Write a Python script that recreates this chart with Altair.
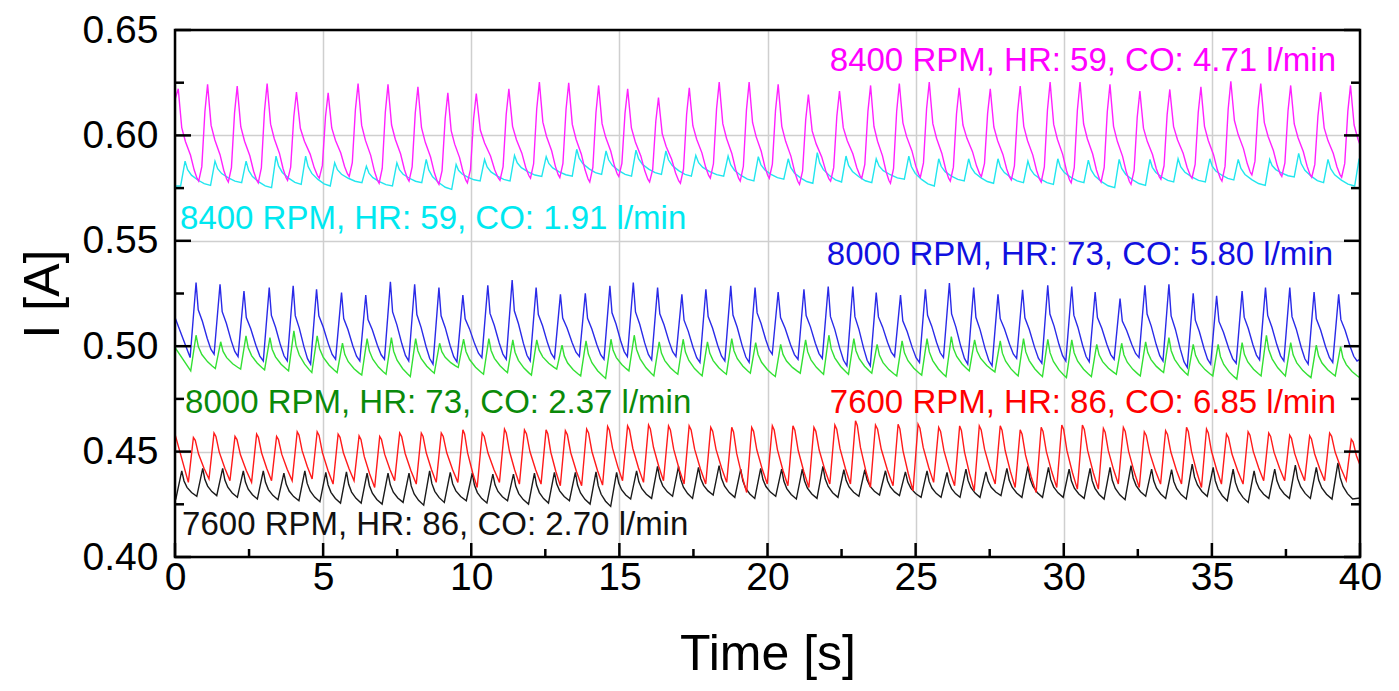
import altair as alt
import pandas as pd

W, H = 1185, 527
FONT = "Liberation Sans"
T_MAX = 40.0

# ---------------- values ----------------
# magenta: 8400 RPM, HR 59, CO 4.71
mag_start = 0.6170
mag_peak_t = [0.11, 1.10, 2.10, 3.11, 4.10, 5.17, 6.18, 7.19, 8.20, 9.21, 10.17, 11.27, 12.30,
              13.29, 14.30, 15.28, 16.32, 17.36, 18.37, 19.38, 20.36, 21.38, 22.43, 23.48, 24.45, 25.46,
              26.47, 27.52, 28.53, 29.54, 30.55, 31.56, 32.57, 33.58, 34.63, 35.64, 36.65, 37.66, 38.67, 39.68]
mag_peak_v = [0.6221, 0.6242, 0.6234, 0.6246, 0.6205, 0.6202, 0.6246, 0.6242, 0.6231, 0.6202, 0.6198, 0.6221, 0.6253,
              0.6250, 0.6237, 0.6221, 0.6179, 0.6226, 0.6253, 0.6253, 0.6242, 0.6194, 0.6210, 0.6237, 0.6246, 0.6253,
              0.6226, 0.6221, 0.6234, 0.6253, 0.6253, 0.6242, 0.6210, 0.6218, 0.6231, 0.6257, 0.6246, 0.6237, 0.6205, 0.6237]
mag_trough_v = [0.6170, 0.5783, 0.5779, 0.5775, 0.5787, 0.5797, 0.5805, 0.5773, 0.5783, 0.5768, 0.5775, 0.5787, 0.5797,
                0.5800, 0.5779, 0.5805, 0.5779, 0.5773, 0.5797, 0.5783, 0.5797, 0.5768, 0.5783, 0.5797, 0.5773, 0.5802,
                0.5783, 0.5805, 0.5789, 0.5779, 0.5775, 0.5779, 0.5768, 0.5792, 0.5797, 0.5783, 0.5813, 0.5805, 0.5802,
                0.5802, 0.5790]
mag_end = 0.5990

# cyan: 8400 RPM, HR 59, CO 1.91
cya_start = 0.5760
cya_peak_t = [0.34, 1.35, 2.40, 3.41, 4.41, 5.39, 6.46, 7.49, 8.48, 9.49, 10.45, 11.46, 12.53,
              13.56, 14.55, 15.56, 16.57, 17.58, 18.67, 19.69, 20.70, 21.68, 22.65, 23.67, 24.77, 25.78,
              26.79, 27.78, 28.79, 29.80, 30.83, 31.87, 32.91, 33.86, 34.93, 35.89, 36.95, 37.93, 38.92, 39.97]
cya_peak_v = [0.5878, 0.5878, 0.5878, 0.5902, 0.5902, 0.5870, 0.5854, 0.5870, 0.5886, 0.5862, 0.5886, 0.5905, 0.5899,
              0.5934, 0.5926, 0.5930, 0.5926, 0.5905, 0.5902, 0.5899, 0.5889, 0.5918, 0.5902, 0.5889, 0.5902, 0.5889,
              0.5889, 0.5889, 0.5878, 0.5889, 0.5883, 0.5886, 0.5886, 0.5889, 0.5889, 0.5886, 0.5886, 0.5915, 0.5886, 0.5890]
cya_trough_v = [0.5760, 0.5763, 0.5776, 0.5752, 0.5768, 0.5760, 0.5776, 0.5760, 0.5776, 0.5744, 0.5784, 0.5784, 0.5805,
                0.5807, 0.5815, 0.5807, 0.5815, 0.5807, 0.5807, 0.5784, 0.5792, 0.5773, 0.5779, 0.5776, 0.5792, 0.5760,
                0.5784, 0.5773, 0.5776, 0.5768, 0.5776, 0.5752, 0.5763, 0.5779, 0.5779, 0.5789, 0.5763, 0.5803, 0.5776,
                0.5760, 0.5770]
cya_end = 0.5886

# blue: 8000 RPM, HR 73, CO 5.80
blu_start = 0.5136
blu_peak_t = [0.711, 1.520, 2.328, 3.181, 3.989, 4.778, 5.621, 6.439, 7.271, 8.090, 8.909, 9.717, 10.559, 11.381, 12.190,
              13.01, 13.85, 14.68, 15.47, 16.29, 17.11, 17.92, 18.76, 19.58, 20.36, 21.23, 22.05, 22.88, 23.67, 24.49,
              25.33, 26.14, 26.96, 27.78, 28.61, 29.46, 30.27, 31.06, 31.90, 32.74, 33.55, 34.37, 35.16, 36.02, 36.81,
              37.63, 38.45, 39.28]
blu_peak_v = [0.5302, 0.5294, 0.5262, 0.5278, 0.5286, 0.5270, 0.5254, 0.5242, 0.5305, 0.5294, 0.5278, 0.5242, 0.5289,
              0.5314, 0.5278, 0.5246, 0.5251, 0.5286, 0.5302, 0.5278, 0.5246, 0.5270, 0.5286, 0.5278, 0.5257, 0.5270,
              0.5283, 0.5283, 0.5254, 0.5242, 0.5270, 0.5299, 0.5278, 0.5246, 0.5267, 0.5289, 0.5283, 0.5257, 0.5226,
              0.5289, 0.5294, 0.5251, 0.5239, 0.5262, 0.5278, 0.5278, 0.5257, 0.5246]
blu_trough_v = [0.4946, 0.4962, 0.4951, 0.4930, 0.4930, 0.4915, 0.4938, 0.4930, 0.4938, 0.4930, 0.4915, 0.4926, 0.4946,
                0.4938, 0.4930, 0.4942, 0.4951, 0.4938, 0.4951, 0.4935, 0.4951, 0.4923, 0.4930, 0.4923, 0.4962, 0.4938,
                0.4942, 0.4907, 0.4907, 0.4951, 0.4923, 0.4946, 0.4915, 0.4907, 0.4942, 0.4919, 0.4930, 0.4926, 0.4938,
                0.4946, 0.4930, 0.4899, 0.4915, 0.4919, 0.4935, 0.4930, 0.4915, 0.4923, 0.4930]
blu_end = 0.4938

# green: 8000 RPM, HR 73, CO 2.37
grn_start = 0.4994
grn_peak_t = [0.711, 1.542, 2.396, 3.204, 4.013, 4.799, 5.653, 6.484, 7.304, 8.123, 8.932, 9.741, 10.594, 11.403, 12.211,
              13.065, 13.874, 14.716, 15.502, 16.344, 17.153, 17.973, 18.793, 19.601, 20.444, 21.286, 22.072, 22.914,
              23.700, 24.543, 25.385, 26.205, 26.991, 27.856, 28.642, 29.462, 30.271, 31.113, 31.955, 32.764, 33.550,
              34.370, 35.212, 36.021, 36.841, 37.661, 38.525, 39.345]
grn_peak_v = [0.5052, 0.5021, 0.5049, 0.5041, 0.5073, 0.5049, 0.5014, 0.5036, 0.5041, 0.5036, 0.5014, 0.5033, 0.5036,
              0.5030, 0.5030, 0.5005, 0.5025, 0.5033, 0.5052, 0.5021, 0.5033, 0.5021, 0.5036, 0.5017, 0.5009, 0.5030,
              0.5052, 0.5036, 0.5009, 0.5025, 0.5036, 0.5046, 0.5030, 0.5025, 0.5036, 0.5033, 0.5030, 0.5009, 0.5014,
              0.5021, 0.5041, 0.5009, 0.5009, 0.5017, 0.5052, 0.5017, 0.5005, 0.4998]
grn_trough_v = [0.4883, 0.4894, 0.4891, 0.4888, 0.4883, 0.4875, 0.4875, 0.4863, 0.4867, 0.4856, 0.4872, 0.4899, 0.4867,
                0.4875, 0.4863, 0.4891, 0.4859, 0.4847, 0.4883, 0.4859, 0.4867, 0.4859, 0.4867, 0.4872, 0.4856, 0.4872,
                0.4867, 0.4867, 0.4872, 0.4859, 0.4863, 0.4856, 0.4883, 0.4878, 0.4859, 0.4856, 0.4851, 0.4856, 0.4867,
                0.4859, 0.4875, 0.4863, 0.4859, 0.4844, 0.4859, 0.4859, 0.4851, 0.4859, 0.4851]
grn_end = 0.4851

# red: 7600 RPM, HR 86, CO 6.85
red_start = 0.4583
red_peak_t = [0.621, 1.317, 2.025, 2.755, 3.429, 4.125, 4.799, 5.506, 6.214, 6.910, 7.584, 8.314, 8.988, 9.718, 10.370,
              11.122, 11.796, 12.526, 13.177, 13.896, 14.603, 15.277, 15.985, 16.659, 17.355, 18.085, 18.793, 19.467,
              20.163, 20.859, 21.567, 22.274, 22.971, 23.645, 24.408, 25.082, 25.778, 26.486, 27.149, 27.856, 28.530,
              29.238, 29.934, 30.630, 31.338, 32.012, 32.719, 33.438, 34.145, 34.819, 35.493, 36.223, 36.919, 37.627,
              38.301, 38.975, 39.705]
red_peak_v = [0.4567, 0.4588, 0.4572, 0.4583, 0.4572, 0.4594, 0.4594, 0.4583, 0.4575, 0.4572, 0.4588, 0.4588, 0.4588,
              0.4603, 0.4588, 0.4607, 0.4603, 0.4603, 0.4599, 0.4607, 0.4619, 0.4622, 0.4626, 0.4622, 0.4622, 0.4615,
              0.4615, 0.4615, 0.4622, 0.4622, 0.4615, 0.4626, 0.4646, 0.4626, 0.4630, 0.4630, 0.4615, 0.4622, 0.4622,
              0.4622, 0.4603, 0.4615, 0.4626, 0.4626, 0.4610, 0.4615, 0.4594, 0.4599, 0.4615, 0.4607, 0.4583, 0.4594,
              0.4588, 0.4578, 0.4575, 0.4588, 0.4559]
red_trough_v = [0.4354, 0.4370, 0.4362, 0.4354, 0.4362, 0.4362, 0.4370, 0.4346, 0.4362, 0.4330, 0.4362, 0.4346, 0.4354,
                0.4354, 0.4330, 0.4354, 0.4346, 0.4346, 0.4338, 0.4338, 0.4341, 0.4362, 0.4354, 0.4362, 0.4346, 0.4346,
                0.4354, 0.4306, 0.4346, 0.4338, 0.4330, 0.4346, 0.4346, 0.4330, 0.4338, 0.4314, 0.4354, 0.4338, 0.4314,
                0.4346, 0.4330, 0.4306, 0.4330, 0.4322, 0.4322, 0.4346, 0.4330, 0.4346, 0.4346, 0.4330, 0.4346, 0.4346,
                0.4362, 0.4362, 0.4362, 0.4362, 0.4362, 0.4362]
red_end = 0.4470

# black: 7600 RPM, HR 86, CO 2.70
blk_start = 0.4275
blk_peak_t = [0.228, 0.936, 1.609, 2.306, 2.980, 3.676, 4.383, 5.091, 5.787, 6.484, 7.191, 7.899, 8.595, 9.291, 10.033,
              10.729, 11.425, 12.133, 12.807, 13.514, 14.211, 14.907, 15.581, 16.288, 16.996, 17.670, 18.366, 19.096,
              19.770, 20.477, 21.174, 21.870, 22.578, 23.285, 23.982, 24.655, 25.385, 26.059, 26.699, 27.373, 28.081,
              28.788, 29.484, 30.181, 30.888, 31.562, 32.270, 32.966, 33.640, 34.336, 35.044, 35.718, 36.425, 37.122,
              37.818, 38.525, 39.255]
blk_peak_v = [0.4409, 0.4420, 0.4420, 0.4409, 0.4409, 0.4398, 0.4409, 0.4401, 0.4404, 0.4398, 0.4398, 0.4398, 0.4409,
              0.4401, 0.4398, 0.4393, 0.4393, 0.4398, 0.4401, 0.4401, 0.4404, 0.4401, 0.4409, 0.4430, 0.4430, 0.4425,
              0.4433, 0.4417, 0.4420, 0.4417, 0.4417, 0.4430, 0.4414, 0.4414, 0.4409, 0.4404, 0.4409, 0.4401, 0.4417,
              0.4404, 0.4420, 0.4430, 0.4425, 0.4417, 0.4420, 0.4425, 0.4433, 0.4417, 0.4414, 0.4441, 0.4425, 0.4417,
              0.4409, 0.4417, 0.4436, 0.4425, 0.4446]
blk_trough_v = [0.4275, 0.4288, 0.4291, 0.4283, 0.4275, 0.4272, 0.4267, 0.4262, 0.4256, 0.4256, 0.4251, 0.4259, 0.4246,
                0.4259, 0.4267, 0.4256, 0.4267, 0.4251, 0.4256, 0.4267, 0.4251, 0.4240, 0.4275, 0.4278, 0.4288, 0.4278,
                0.4294, 0.4283, 0.4278, 0.4288, 0.4275, 0.4278, 0.4283, 0.4288, 0.4294, 0.4291, 0.4283, 0.4283, 0.4283,
                0.4283, 0.4291, 0.4283, 0.4283, 0.4283, 0.4278, 0.4275, 0.4272, 0.4288, 0.4278, 0.4275, 0.4288, 0.4267,
                0.4259, 0.4278, 0.4278, 0.4278, 0.4275, 0.4275]
blk_end = 0.4280

# axis ticks
x_major = [0, 5, 10, 15, 20, 25, 30, 35, 40]
x_minor = [2.5, 7.5, 12.5, 17.5, 22.5, 27.5, 32.5, 37.5]
y_major = [0.40, 0.45, 0.50, 0.55, 0.60, 0.65]
y_minor = [0.425, 0.475, 0.525, 0.575, 0.625]

# annotations: text, time, current, colour, align
notes = [
    ("8400 RPM, HR: 59, CO: 4.71 l/min", 39.19, 0.6351, "#ff00ff", "right"),
    ("8400 RPM, HR: 59, CO: 1.91 l/min", 0.17, 0.5602, "#00e8f0", "left"),
    ("8000 RPM, HR: 73, CO: 5.80 l/min", 39.09, 0.5431, "#1010e0", "right"),
    ("8000 RPM, HR: 73, CO: 2.37 l/min", 0.34, 0.4730, "#0a8a0a", "left"),
    ("7600 RPM, HR: 86, CO: 6.85 l/min", 39.19, 0.4730, "#ff0000", "right"),
    ("7600 RPM, HR: 86, CO: 2.70 l/min", 0.24, 0.4152, "#111111", "left"),
]

# beat shapes (fractions of time / amplitude, read from representative beats)
shapes = {
    "mag": (0.30, [(0.35, 0.15), (0.70, 0.72)],
            [(0.08, 0.80), (0.17, 0.58), (0.35, 0.43), (0.60, 0.28), (0.78, 0.12), (0.92, 0.03)]),
    "cya": (0.15, [], [(0.10, 0.65), (0.25, 0.42), (0.50, 0.22), (0.75, 0.07)]),
    "blu": (0.20, [], [(0.12, 0.62), (0.35, 0.46), (0.62, 0.22), (0.82, 0.07)]),
    "grn": (0.18, [], [(0.12, 0.65), (0.30, 0.42), (0.60, 0.20), (0.85, 0.07)]),
    "red": (0.17, [], [(0.12, 0.93), (0.33, 0.60), (0.68, 0.26)]),
    "blk": (0.20, [], [(0.15, 0.60), (0.35, 0.35), (0.65, 0.15)]),
}


def waveform(name, start_v, peak_t, peak_v, trough_v, end_v):
    rise, rise_shape, decay_shape = shapes[name]
    n = len(peak_t)
    period = (peak_t[-1] - peak_t[0]) / (n - 1)
    pts = [(0.0, start_v)]
    for i in range(n):
        tp, vp = peak_t[i], peak_v[i]
        t0, v0 = tp - rise, trough_v[i]
        if t0 > 0:
            pts.append((t0, v0))
            for ft, fa in rise_shape:
                pts.append((t0 + ft * rise, v0 + fa * (vp - v0)))
        pts.append((tp, vp))
        t1 = peak_t[i + 1] - rise if i + 1 < n else tp + period - rise
        v1 = trough_v[i + 1]
        for ft, fa in decay_shape:
            pts.append((tp + ft * (t1 - tp), v1 + fa * (vp - v1)))
        pts.append((t1, v1))
    if pts[-1][0] < T_MAX:
        pts.append((T_MAX, end_v))
    return [{"series": name, "t": t, "v": v, "k": k} for k, (t, v) in enumerate(pts)]


rows = []
rows += waveform("blk", blk_start, blk_peak_t, blk_peak_v, blk_trough_v, blk_end)
rows += waveform("red", red_start, red_peak_t, red_peak_v, red_trough_v, red_end)
rows += waveform("grn", grn_start, grn_peak_t, grn_peak_v, grn_trough_v, grn_end)
rows += waveform("blu", blu_start, blu_peak_t, blu_peak_v, blu_trough_v, blu_end)
rows += waveform("cya", cya_start, cya_peak_t, cya_peak_v, cya_trough_v, cya_end)
rows += waveform("mag", mag_start, mag_peak_t, mag_peak_v, mag_trough_v, mag_end)
df = pd.DataFrame(rows)

series_names = ["blk", "red", "grn", "blu", "cya", "mag"]
series_colors = ["#1a1a1a", "#ff1a1a", "#33e033", "#2a2ae8", "#22e6ee", "#ff22ff"]

xs = alt.Scale(domain=[0, 40], nice=False, zero=False)
ys = alt.Scale(domain=[0.40, 0.65], nice=False, zero=False)

x_axis = alt.Axis(values=x_major, format="d", title="Time [s]", grid=True, ticks=False, domain=False,
                  gridColor="#cfcfcf", gridWidth=1.5, labelFont=FONT, labelFontSize=39, labelColor="black",
                  labelPadding=1, titleFont=FONT, titleFontSize=50, titleFontWeight="normal",
                  titleColor="black", titlePadding=32, labelFlush=False)
y_axis = alt.Axis(values=y_major, format=".2f", title="I [A]", grid=True, ticks=False, domain=False,
                  gridColor="#cfcfcf", gridWidth=1.5, labelFont=FONT, labelFontSize=39, labelColor="black",
                  labelPadding=17, titleFont=FONT, titleFontSize=50, titleFontWeight="normal",
                  titleColor="black", titlePadding=14, labelFlush=False)

X = alt.X("t:Q", scale=xs, axis=x_axis)
Y = alt.Y("v:Q", scale=ys, axis=y_axis)

lines = alt.Chart(df).mark_line(strokeWidth=1.4, clip=True).encode(
    x=X, y=Y,
    color=alt.Color("series:N", scale=alt.Scale(domain=series_names, range=series_colors), legend=None),
    order="k:Q",
)

ymaj = pd.DataFrame({"v": y_major})
ymin = pd.DataFrame({"v": y_minor})
xmaj = pd.DataFrame({"t": x_major})
xmin = pd.DataFrame({"t": x_minor})

tick_layers = []
for d, ln in ((ymaj, 16), (ymin, 9)):
    tick_layers.append(alt.Chart(d).mark_rule(color="black", strokeWidth=2.5).encode(
        y=Y, x=alt.value(0), x2=alt.value(ln)))
    tick_layers.append(alt.Chart(d).mark_rule(color="black", strokeWidth=2.5).encode(
        y=Y, x=alt.value(W - ln), x2=alt.value(W)))
for d, ln in ((xmaj, 14), (xmin, 8)):
    tick_layers.append(alt.Chart(d).mark_rule(color="black", strokeWidth=2.5).encode(
        x=X, y=alt.value(H), y2=alt.value(H - ln)))

frame = alt.Chart(pd.DataFrame({"t": [0.0], "v": [0.40]})).mark_rect(
    filled=False, stroke="black", strokeWidth=2.5, fill=None).encode(
    x=alt.value(0), x2=alt.value(W), y=alt.value(0), y2=alt.value(H))

text_layers = []
for txt, t, v, col, al in notes:
    d = pd.DataFrame({"t": [t], "v": [v], "label": [txt]})
    text_layers.append(alt.Chart(d).mark_text(font=FONT, fontSize=33, color=col, align=al,
                                              baseline="middle").encode(x=X, y=Y, text="label:N"))

chart = alt.layer(lines, *text_layers, *tick_layers, frame).properties(
    width=W, height=H,
    autosize=alt.AutoSizeParams(type="none"),
    padding={"left": 167, "top": 22, "right": 25, "bottom": 133},
).configure_view(stroke=None).configure(background="white")

chart.save("out.html", embed_options={"renderer": "svg", "actions": False})
